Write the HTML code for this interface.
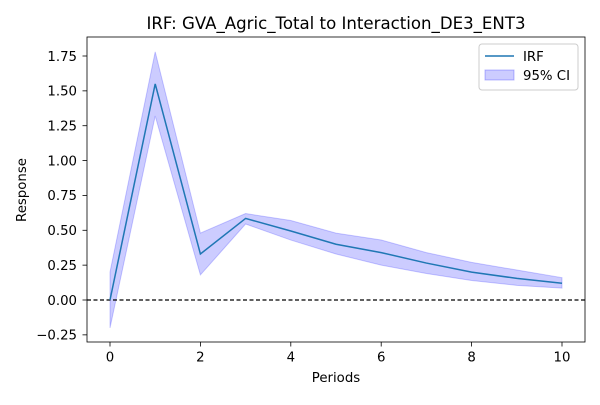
<!DOCTYPE html>
<html><head><meta charset="utf-8"><style>
body{margin:0;background:#fff;}
svg text{font-family:"DejaVu Sans","Liberation Sans",sans-serif;fill:#000;}
</style></head><body>
<svg id="chart" width="600" height="400" xmlns="http://www.w3.org/2000/svg">
<rect width="600" height="400" fill="#fff"/>
<g id="plot"></g>
</svg>
<script>
const periods=[0,1,2,3,4,5,6,7,8,9,10];
const irf=[0,1.55,0.33,0.585,0.495,0.40,0.34,0.265,0.20,0.155,0.12];
const lower=[-0.2,1.32,0.18,0.545,0.43,0.33,0.25,0.19,0.14,0.105,0.085];
const upper=[0.2,1.78,0.48,0.62,0.57,0.48,0.43,0.34,0.27,0.215,0.16];
const xTicks=[0,2,4,6,8,10];
const yTicks=[-0.25,0,0.25,0.5,0.75,1.0,1.25,1.5,1.75];

const L=87,R=585,T=37,B=342;
const xs=v=>110+(v-0)*(562-110)/10;
const ys=v=>300-v*(300-56)/1.75;
const NS='http://www.w3.org/2000/svg';
const g=document.getElementById('plot');
function mk(tag,attrs){const e=document.createElementNS(NS,tag);for(const k in attrs)e.setAttribute(k,attrs[k]);g.appendChild(e);return e;}

let pts=periods.map((p,i)=>xs(p)+','+ys(upper[i]));
pts=pts.concat(periods.slice().reverse().map((p,j)=>{const i=periods.length-1-j;return xs(p)+','+ys(lower[i]);}));
const band=mk('polygon',{points:pts.join(' '),fill:'rgba(0,0,255,0.2)',stroke:'rgba(0,0,255,0.2)','stroke-width':1});



const zl=mk('line',{x1:L,x2:R,y1:ys(0),y2:ys(0),stroke:'#000','stroke-width':1.2,'stroke-dasharray':'4,2.5'});



const ln=mk('polyline',{points:periods.map((p,i)=>xs(p)+','+ys(irf[i])).join(' '),fill:'none',stroke:'#1f77b4','stroke-width':1.5});



const fr=mk('rect',{x:L,y:T,width:R-L,height:B-T,fill:'none',stroke:'#000','stroke-width':0.8});



xTicks.forEach(t=>{
  const x=xs(t);
  const tk=mk('line',{x1:x,x2:x,y1:B,y2:B+4.5,stroke:'#000','stroke-width':0.8});
  
  
  const tx=mk('text',{x:x,y:B+19.5,'text-anchor':'middle','font-size':13.3});
  tx.textContent=t;
  
  
});
yTicks.forEach(t=>{
  const y=ys(t);
  const tk=mk('line',{x1:L-4.5,x2:L,y1:y,y2:y,stroke:'#000','stroke-width':0.8});
  
  
  const tx=mk('text',{x:L-10,y:y+4.8,'text-anchor':'end','font-size':13.3});
  tx.textContent=(t<0?'\u2212':'')+Math.abs(t).toFixed(2);
  
  
});
</script>
<svg style="position:absolute;left:0;top:0" width="600" height="400" xmlns="http://www.w3.org/2000/svg">
<text x="336" y="29" text-anchor="middle" font-size="16.6">IRF: GVA_Agric_Total to Interaction_DE3_ENT3</text>
<text x="336" y="382" text-anchor="middle" font-size="13.3">Periods</text>
<text x="26" y="190" text-anchor="middle" font-size="13.3" transform="rotate(-90 26 190)">Response</text>
<g>
<rect x="479" y="44" width="99" height="46" rx="3" fill="#fff" fill-opacity="0.8" stroke="#ccc"/>
<line x1="485" x2="514" y1="56" y2="56" stroke="#1f77b4" stroke-width="1.5"/>
<text x="523" y="61" font-size="13.3">IRF</text>
<rect x="485" y="70" width="29" height="10" fill="rgba(0,0,255,0.2)" stroke="rgba(0,0,255,0.25)"/>
<text x="523" y="80" font-size="13.3">95% CI</text>
</g>
</svg>
</body></html>
